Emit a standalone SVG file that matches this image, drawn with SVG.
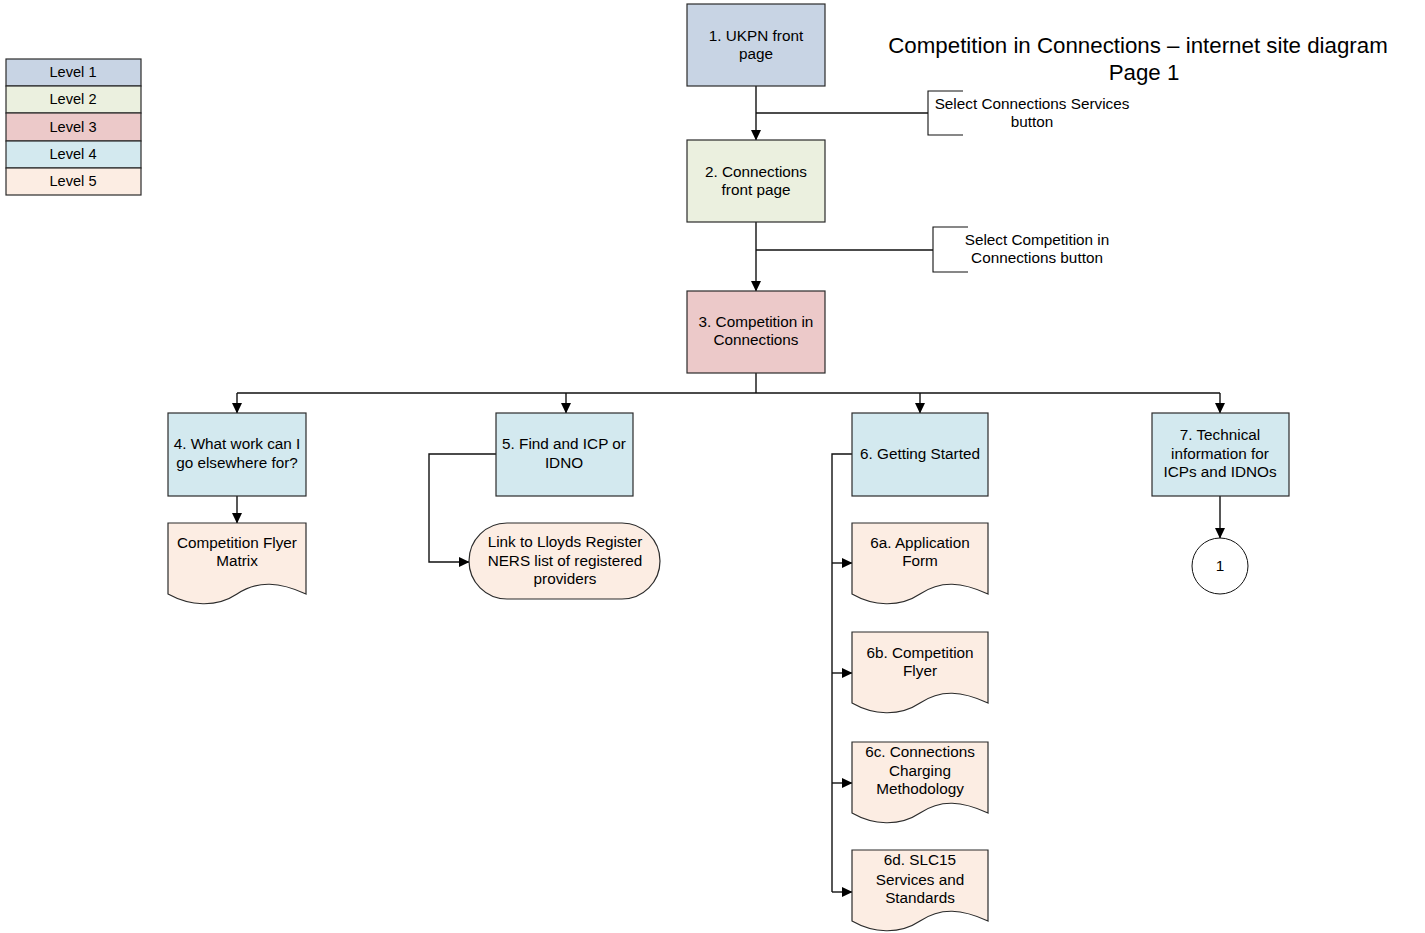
<svg xmlns="http://www.w3.org/2000/svg" width="1425" height="933" viewBox="0 0 1425 933">
  <defs>
    <marker id="arrow" markerWidth="11" markerHeight="11" refX="10" refY="5.5" orient="auto" markerUnits="userSpaceOnUse">
      <path d="M0,0.5 L10.5,5.5 L0,10.5 Z" fill="#000"/>
    </marker>
    <style>
      text { font-family: "Liberation Sans", Arial, sans-serif; font-size: 15.3px; fill: #000; text-anchor: middle; }
      .key { font-size: 14.6px; }
      .title { font-size: 22.3px; }
      .box { stroke: #2b2b2b; stroke-width: 1.2; }
      .l1 { fill: #c8d4e4; }
      .l2 { fill: #ebf0df; }
      .l3 { fill: #ecc9c9; }
      .l4 { fill: #d3e9ef; }
      .l5 { fill: #fcede3; }
      .wire { fill: none; stroke: #111; stroke-width: 1.4; }
      .arr { marker-end: url(#arrow); }
      .note { fill: none; stroke: #111; stroke-width: 1.1; }
    </style>
  </defs>
  <rect width="1425" height="933" fill="#fff"/>

  <!-- colour key -->
  <g id="legend">
    <rect class="box l1" x="6" y="59" width="135" height="27"/>
    <rect class="box l2" x="6" y="86" width="135" height="27"/>
    <rect class="box l3" x="6" y="113" width="135" height="28"/>
    <rect class="box l4" x="6" y="141" width="135" height="27"/>
    <rect class="box l5" x="6" y="168" width="135" height="27"/>
    <text class="key" x="73" y="77">Level 1</text>
    <text class="key" x="73" y="104">Level 2</text>
    <text class="key" x="73" y="132">Level 3</text>
    <text class="key" x="73" y="159">Level 4</text>
    <text class="key" x="73" y="186">Level 5</text>
  </g>

  <g id="title">
    <text class="title" x="1138" y="53">Competition in Connections – internet site diagram</text>
    <text class="title" x="1144" y="80">Page 1</text>
  </g>

  <!-- connectors -->
  <g id="connectors">
    <path class="wire arr" d="M756,86 V140"/>
    <path class="wire" d="M756,113 H928"/>
    <path class="wire arr" d="M756,222 V291"/>
    <path class="wire" d="M756,250 H933"/>
    <path class="wire" d="M756,373 V393 M237,393 H1220"/>
    <path class="wire arr" d="M237,393 V413"/>
    <path class="wire arr" d="M566,393 V413"/>
    <path class="wire arr" d="M920,393 V413"/>
    <path class="wire arr" d="M1220,393 V413"/>
    <path class="wire arr" d="M237,496 V523"/>
    <path class="wire arr" d="M496,454 H429 V562 H469"/>
    <path class="wire" d="M852,454 H832 V892"/>
    <path class="wire arr" d="M832,563 H852"/>
    <path class="wire arr" d="M832,673 H852"/>
    <path class="wire arr" d="M832,783 H852"/>
    <path class="wire arr" d="M832,892 H852"/>
    <path class="wire arr" d="M1220,496 V538"/>
  </g>

  <!-- annotations -->
  <g id="note-services">
    <path class="note" d="M963,91 H928 V135 H963"/>
    <text x="1032" y="109">Select Connections Services</text>
    <text x="1032" y="127">button</text>
  </g>
  <g id="note-competition">
    <path class="note" d="M968,227 H933 V272 H968"/>
    <text x="1037" y="245">Select Competition in</text>
    <text x="1037" y="263">Connections button</text>
  </g>

  <g id="n1">
    <rect class="box l1" x="687" y="4" width="138" height="82"/>
    <text x="756" y="41">1. UKPN front</text>
    <text x="756" y="59">page</text>
  </g>
  <g id="n2">
    <rect class="box l2" x="687" y="140" width="138" height="82"/>
    <text x="756" y="177">2. Connections</text>
    <text x="756" y="195">front page</text>
  </g>
  <g id="n3">
    <rect class="box l3" x="687" y="291" width="138" height="82"/>
    <text x="756" y="327">3. Competition in</text>
    <text x="756" y="345">Connections</text>
  </g>

  <g id="n4">
    <rect class="box l4" x="168" y="413" width="138" height="83"/>
    <text x="237" y="449">4. What work can I</text>
    <text x="237" y="468">go elsewhere for?</text>
  </g>
  <g id="n5">
    <rect class="box l4" x="496" y="413" width="137" height="83"/>
    <text x="564" y="449">5. Find and ICP or</text>
    <text x="564" y="468">IDNO</text>
  </g>
  <g id="n6">
    <rect class="box l4" x="852" y="413" width="136" height="83"/>
    <text x="920" y="459">6. Getting Started</text>
  </g>
  <g id="n7">
    <rect class="box l4" x="1152" y="413" width="137" height="83"/>
    <text x="1220" y="440">7. Technical</text>
    <text x="1220" y="459">information for</text>
    <text x="1220" y="477">ICPs and IDNOs</text>
  </g>

  <g id="flyer-matrix">
    <path class="box l5" d="M168,523 H306 V594 C280,582 258,580 237,594 C216,608 190,606 168,594 Z"/>
    <text x="237" y="548">Competition Flyer</text>
    <text x="237" y="566">Matrix</text>
  </g>
  <g id="lloyds-link">
    <rect class="box l5" x="469" y="523" width="191" height="76" rx="38" ry="38"/>
    <text x="565" y="547">Link to Lloyds Register</text>
    <text x="565" y="566">NERS list of registered</text>
    <text x="565" y="584">providers</text>
  </g>

  <g id="n6a">
    <path class="box l5" d="M852,523 H988 V594 C962,582 941,580 920,594 C899,608 873,606 852,594 Z"/>
    <text x="920" y="548">6a. Application</text>
    <text x="920" y="566">Form</text>
  </g>
  <g id="n6b">
    <path class="box l5" d="M852,632 H988 V703 C962,691 941,689 920,703 C899,717 873,715 852,703 Z"/>
    <text x="920" y="658">6b. Competition</text>
    <text x="920" y="676">Flyer</text>
  </g>
  <g id="n6c">
    <path class="box l5" d="M852,742 H988 V813 C962,801 941,799 920,813 C899,827 873,825 852,813 Z"/>
    <text x="920" y="757">6c. Connections</text>
    <text x="920" y="776">Charging</text>
    <text x="920" y="794">Methodology</text>
  </g>
  <g id="n6d">
    <path class="box l5" d="M852,850 H988 V921 C962,909 941,907 920,921 C899,935 873,933 852,921 Z"/>
    <text x="920" y="865">6d. SLC15</text>
    <text x="920" y="885">Services and</text>
    <text x="920" y="903">Standards</text>
  </g>

  <g id="page-ref-1">
    <circle cx="1220" cy="566" r="28" fill="#fff" stroke="#111" stroke-width="1"/>
    <text x="1220" y="571">1</text>
  </g>
</svg>
